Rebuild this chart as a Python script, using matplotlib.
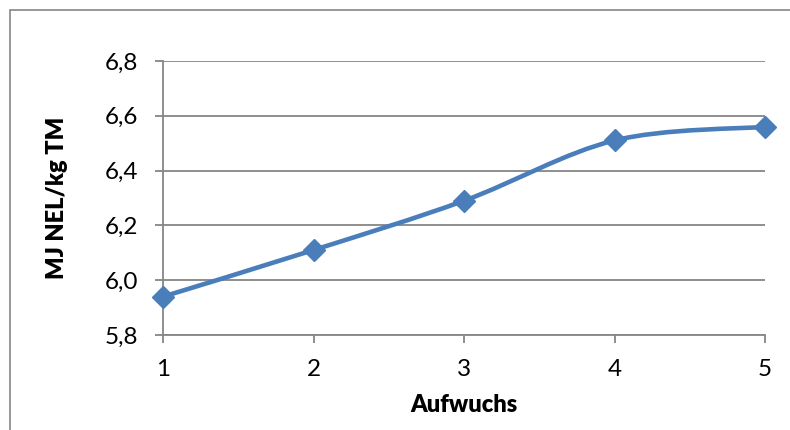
import numpy as np
import matplotlib
matplotlib.use("Agg")
import matplotlib.pyplot as plt
from matplotlib.path import Path
from matplotlib.patches import PathPatch, Rectangle

plt.rcParams['font.family'] = ['Lato', 'DejaVu Sans']

# data
aufwuchs = [1, 2, 3, 4, 5]
nel = [5.94, 6.11, 6.29, 6.51, 6.56]
yticks = [5.8, 6.0, 6.2, 6.4, 6.6, 6.8]
ylabels = ['5,8', '6,0', '6,2', '6,4', '6,6', '6,8']

blue = '#4A7EBB'
grey = '#868686'

fig = plt.figure(figsize=(7.9, 4.3), dpi=100)
ax = fig.add_axes([163/790, 1 - 335/430, (765-163)/790, (335-61)/430])

# excel-like smoothed line (catmull-rom as bezier)
x = np.array(aufwuchs, float)
y = np.array(nel, float)
verts = [(x[0], y[0])]
codes = [Path.MOVETO]
n = len(x)
for i in range(n - 1):
    x0, y0 = (x[i-1], y[i-1]) if i > 0 else (x[i], y[i])
    x3, y3 = (x[i+2], y[i+2]) if i + 2 < n else (x[i+1], y[i+1])
    c1 = (x[i] + (x[i+1] - x0) / 6, y[i] + (y[i+1] - y0) / 6)
    c2 = (x[i+1] - (x3 - x[i]) / 6, y[i+1] - (y3 - y[i]) / 6)
    verts += [c1, c2, (x[i+1], y[i+1])]
    codes += [Path.CURVE4] * 3
ax.add_patch(PathPatch(Path(verts, codes), fill=False, edgecolor=blue,
                       lw=3.3, capstyle='round', joinstyle='round', zorder=3))
ax.plot(aufwuchs, nel, linestyle='none', marker='D', markersize=11,
        color=blue, zorder=4, clip_on=False)

ax.set_xlim(1, 5)
ax.set_ylim(5.8, 6.8)
ax.set_xticks(aufwuchs)
ax.set_yticks(yticks)
ax.set_yticklabels(ylabels)
ax.grid(axis='y', color=grey, lw=1.3)
ax.set_axisbelow(True)
for s in ['top', 'right']:
    ax.spines[s].set_visible(False)
for s in ['left', 'bottom']:
    ax.spines[s].set_color(grey)
    ax.spines[s].set_linewidth(1.3)
ax.tick_params(axis='both', colors=grey, length=6, width=1.3,
               labelcolor='black', labelsize=17.5)
ax.tick_params(axis='x', pad=11)
ax.tick_params(axis='y', pad=12)

ax.set_xlabel('Aufwuchs', fontsize=17, fontweight='heavy', labelpad=10)
ax.set_ylabel('MJ NEL/kg TM', fontsize=17, fontweight='heavy', labelpad=26)

# chart border
fig.patches.append(Rectangle((10/790, -0.1), 1.1, 1 - 10/430 + 0.1,
                             transform=fig.transFigure, fill=False,
                             edgecolor=grey, lw=1.2))

fig.savefig('out.png', dpi=100)
